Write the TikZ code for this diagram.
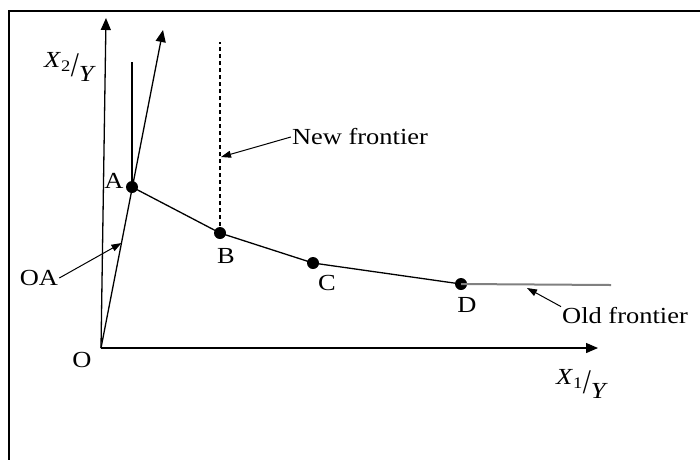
\documentclass[tikz,border=0pt]{standalone}
\usepackage{fontspec}
\setmainfont{Liberation Serif}[FakeStretch=1.15]
\usetikzlibrary{arrows.meta,calc}

\newcommand{\perY}[1]{\raisebox{0.5ex}{\textit{X}\textsubscript{#1}}\raisebox{-0.35ex}{\scalebox{1.1}[1.5]{/}}\raisebox{-0.75ex}{\textit{Y}}}

\tikzset{
  axis/.style={line width=1.3pt, -{Triangle[length=12pt,width=10pt]}},
  pointer/.style={line width=1pt, -{Triangle[length=10pt,width=7pt]}},
  dot/.style={circle, fill=black, inner sep=0pt, minimum size=12pt},
  lbl/.style={font=\fontsize{23}{27}\selectfont, inner sep=1pt}
}

\begin{document}
\begin{tikzpicture}[x=1pt, y=-1pt]
\useasboundingbox (0,0) rectangle (700,459);
\draw[line width=2pt] (9,470) -- (9,11) -- (710,11);

% axes and ray
\coordinate (O) at (101,348);
\coordinate (yend) at (106,18);
\coordinate (xend) at (598,348);
\coordinate (raytip) at (163,30);
\draw[axis] (O) -- (yend);
\draw[axis] (O) -- (xend);
\draw[axis] (O) -- (raytip);

% frontier points
\node[dot] (A) at (132,187) {};
\node[dot] (B) at (220,233) {};
\node[dot] (C) at (313,263) {};
\node[dot] (D) at (461,284) {};
\coordinate (Atop) at (132,62);
\coordinate (Btop) at (220,42);
\coordinate (oldend) at (611,285);

\draw[line width=1.3pt] (A.center) -- (Atop);
\draw[line width=1.3pt, dash pattern=on 4pt off 3pt] (B.center) -- (Btop);
\draw[line width=1.3pt] (A.center) -- (B.center) -- (C.center) -- (D.center);
\draw[line width=2pt, gray] (D.center) -- (oldend);

% labels
\node[lbl] (labA) at (114,181) {A};
\node[lbl] (labB) at (226,256) {B};
\node[lbl] (labC) at (327,283) {C};
\node[lbl] (labD) at (467,305) {D};
\node[lbl] (labO) at (82,360) {O};
\node[lbl] (labOA) at (39,278) {OA};
\node[lbl] (labNew) at (360,137) {New frontier};
\node[lbl] (labOld) at (625,316) {Old frontier};
\node[lbl] (labY) at (70,67) {\perY{2}};
\node[lbl] (labX) at (582,384) {\perY{1}};

% pointers
\coordinate (oatip) at ($(O)!0.33!(raytip)$);
\coordinate (newtip) at (221,157);
\coordinate (oldtip) at (527,288);
\draw[pointer] (labOA.east) -- (oatip);
\draw[pointer] (labNew.west) -- (newtip);
\draw[pointer] (labOld.north west) -- (oldtip);

\end{tikzpicture}
\end{document}
